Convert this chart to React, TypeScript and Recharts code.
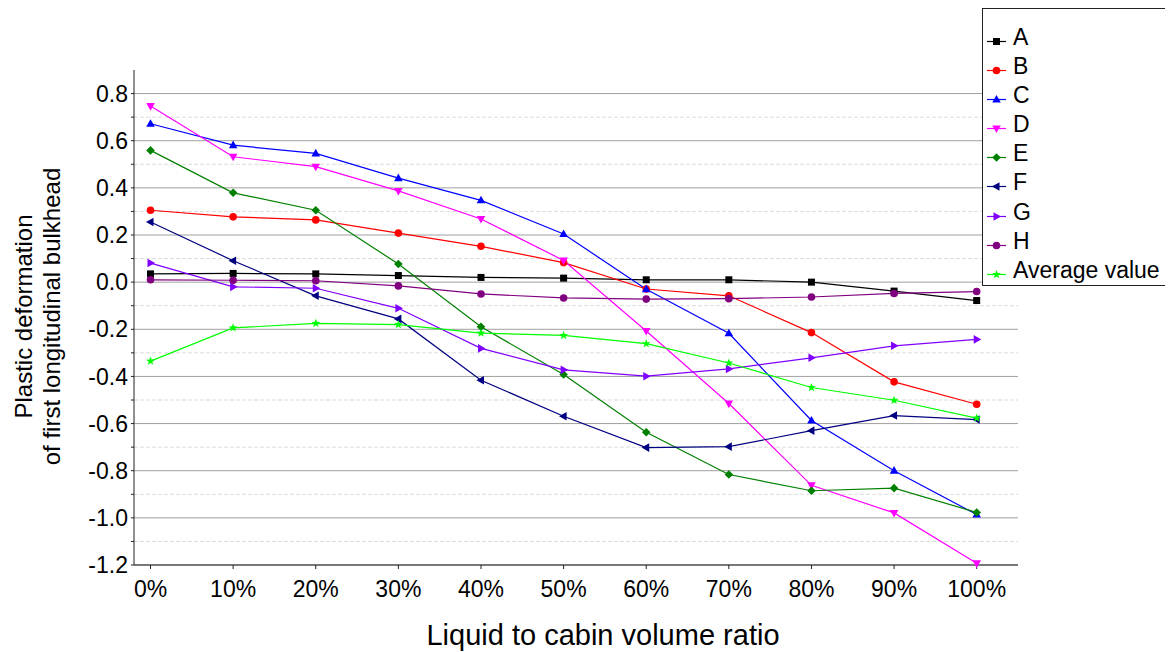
import { LineChart, Line, XAxis, YAxis, ReferenceLine } from "recharts";

// liquid to cabin volume ratio, %
const ratio = [0, 10, 20, 30, 40, 50, 60, 70, 80, 90, 100];

const seriesA = [0.035, 0.037, 0.035, 0.028, 0.02, 0.017, 0.01, 0.01, 0.0, -0.038, -0.078];
const seriesB = [0.305, 0.277, 0.264, 0.208, 0.152, 0.083, -0.029, -0.058, -0.214, -0.423, -0.518];
const seriesC = [0.672, 0.581, 0.546, 0.441, 0.347, 0.204, -0.03, -0.217, -0.587, -0.8, -0.986];
const seriesD = [0.747, 0.532, 0.49, 0.387, 0.268, 0.092, -0.207, -0.515, -0.862, -0.979, -1.193];
const seriesE = [0.559, 0.379, 0.305, 0.077, -0.189, -0.392, -0.637, -0.816, -0.885, -0.874, -0.977];
const seriesF = [0.255, 0.091, -0.058, -0.156, -0.416, -0.569, -0.702, -0.698, -0.63, -0.566, -0.583];
const seriesG = [0.081, -0.02, -0.026, -0.111, -0.281, -0.372, -0.399, -0.368, -0.321, -0.27, -0.243];
const seriesH = [0.01, 0.008, 0.006, -0.016, -0.05, -0.067, -0.072, -0.07, -0.063, -0.048, -0.04];
const average = [-0.335, -0.194, -0.175, -0.18, -0.216, -0.226, -0.261, -0.343, -0.447, -0.501, -0.577];

const xTicks = [0, 10, 20, 30, 40, 50, 60, 70, 80, 90, 100];
const majorY = [-1.2, -1.0, -0.8, -0.6, -0.4, -0.2, 0, 0.2, 0.4, 0.6, 0.8];
const minorY = [-1.1, -0.9, -0.7, -0.5, -0.3, -0.1, 0.1, 0.3, 0.5, 0.7];
const yTicks = [...majorY, ...minorY].sort((a, b) => a - b);

type Shape = "square" | "circle" | "up" | "down" | "diamond" | "left" | "right" | "star";

const series: { key: string; name: string; color: string; shape: Shape; values: number[] }[] = [
  { key: "A", name: "A", color: "#000000", shape: "square", values: seriesA },
  { key: "B", name: "B", color: "#ff0000", shape: "circle", values: seriesB },
  { key: "C", name: "C", color: "#0000ff", shape: "up", values: seriesC },
  { key: "D", name: "D", color: "#ff00ff", shape: "down", values: seriesD },
  { key: "E", name: "E", color: "#008000", shape: "diamond", values: seriesE },
  { key: "F", name: "F", color: "#000080", shape: "left", values: seriesF },
  { key: "G", name: "G", color: "#8000ff", shape: "right", values: seriesG },
  { key: "H", name: "H", color: "#800080", shape: "circle", values: seriesH },
  { key: "avg", name: "Average value", color: "#00ff00", shape: "star", values: average },
];

const data = ratio.map((x, i) => {
  const row: Record<string, number> = { x };
  series.forEach((s) => (row[s.key] = s.values[i]));
  return row;
});

const FONT = "'Liberation Sans', Arial, sans-serif";

function Marker({ shape, cx, cy, color }: { shape: Shape; cx: number; cy: number; color: string }) {
  const p = (pts: number[][]) => pts.map(([a, b]) => `${cx + a},${cy + b}`).join(" ");
  switch (shape) {
    case "square":
      return <rect x={cx - 3.5} y={cy - 3.5} width={7} height={7} fill={color} />;
    case "circle":
      return <circle cx={cx} cy={cy} r={3.8} fill={color} />;
    case "up":
      return <polygon points={p([[0, -4.6], [-4.3, 3], [4.3, 3]])} fill={color} />;
    case "down":
      return <polygon points={p([[0, 4.6], [-4.3, -3], [4.3, -3]])} fill={color} />;
    case "left":
      return <polygon points={p([[-4.6, 0], [3, -4.3], [3, 4.3]])} fill={color} />;
    case "right":
      return <polygon points={p([[4.6, 0], [-3, -4.3], [-3, 4.3]])} fill={color} />;
    case "diamond":
      return <polygon points={p([[0, -4.3], [4.3, 0], [0, 4.3], [-4.3, 0]])} fill={color} />;
    case "star": {
      const pts: number[][] = [];
      for (let k = 0; k < 10; k++) {
        const r = k % 2 === 0 ? 4.6 : 1.9;
        const a = -Math.PI / 2 + (k * Math.PI) / 5;
        pts.push([r * Math.cos(a), r * Math.sin(a)]);
      }
      return <polygon points={p(pts)} fill={color} />;
    }
  }
  return null;
}

function YTick(props: any) {
  const { x, y, payload } = props;
  const v = payload.value as number;
  if (Math.round(v * 10) % 2 !== 0) return <g />;
  return (
    <text x={x} y={y} dy="0.355em" textAnchor="end" fontSize={23} fill="#000">
      {v.toFixed(1)}
    </text>
  );
}

function LegendBox() {
  return (
    <div
      style={{
        position: "absolute",
        left: 974,
        top: 0,
        boxSizing: "border-box",
        border: "1px solid #222",
        background: "#fff",
        width: 184,
        height: 278,
        paddingTop: 14,
        fontFamily: FONT,
      }}
    >
      {series.map((s) => (
        <div key={s.key} style={{ display: "flex", height: 29.1 }}>
          <svg width={30} height={29.1}>
            <line x1={4} x2={23} y1={18.5} y2={18.5} stroke={s.color} strokeWidth={1.2} />
            <Marker shape={s.shape} cx={13.5} cy={18.5} color={s.color} />
          </svg>
          <span style={{ fontSize: 23, lineHeight: "29.1px", color: "#000", whiteSpace: "nowrap" }}>{s.name}</span>
        </div>
      ))}
    </div>
  );
}

const yTitle = () => (
  <text transform="translate(0, 308.5) rotate(-90)" textAnchor="middle" fontSize={24} fill="#000">
    <tspan x={0} y={23.5}>Plastic deformation</tspan>
    <tspan x={0} y={52}>of first longitudinal bulkhead</tspan>
  </text>
);

const xTitle = () => (
  <text x={595} y={637} textAnchor="middle" fontSize={29} fill="#000">
    Liquid to cabin volume ratio
  </text>
);

export default function App() {
  return (
    <div style={{ width: 1165, height: 644, fontFamily: FONT, position: "relative" }}>
      <LineChart width={1165} height={644} data={data} margin={{ top: 62, right: 155, bottom: 1, left: 26 }}>
        {majorY.map((v) => (
          <ReferenceLine key={`maj${v}`} y={v} stroke="#a0a0a0" strokeWidth={1} />
        ))}
        {minorY.map((v) => (
          <ReferenceLine key={`min${v}`} y={v} stroke="#dcdcdc" strokeDasharray="4 2" strokeWidth={1} />
        ))}
        <XAxis
          dataKey="x"
          type="number"
          domain={[-2, 105]}
          ticks={xTicks}
          tickFormatter={(v: number) => `${v}%`}
          tick={{ fontSize: 23, fill: "#000" }}
          tickSize={4}
          tickMargin={12}
          height={86}
          axisLine={{ stroke: "#222" }}
          tickLine={{ stroke: "#222" }}
          label={xTitle}
        />
        <YAxis
          type="number"
          domain={[-1.2, 0.9]}
          ticks={yTicks}
          interval={0}
          tick={YTick}
          tickSize={3}
          tickMargin={3}
          width={100}
          axisLine={{ stroke: "#222" }}
          tickLine={{ stroke: "#222" }}
          label={yTitle}
        />
        {series.map((s) => (
          <Line
            key={s.key}
            type="linear"
            dataKey={s.key}
            name={s.name}
            stroke={s.color}
            strokeWidth={1.2}
            isAnimationActive={false}
            activeDot={false}
            dot={(p: any) => (
              <Marker key={`${s.key}-${p.index}`} shape={s.shape} cx={p.cx} cy={p.cy} color={s.color} />
            )}
          />
        ))}
      </LineChart>
      <LegendBox />
    </div>
  );
}
